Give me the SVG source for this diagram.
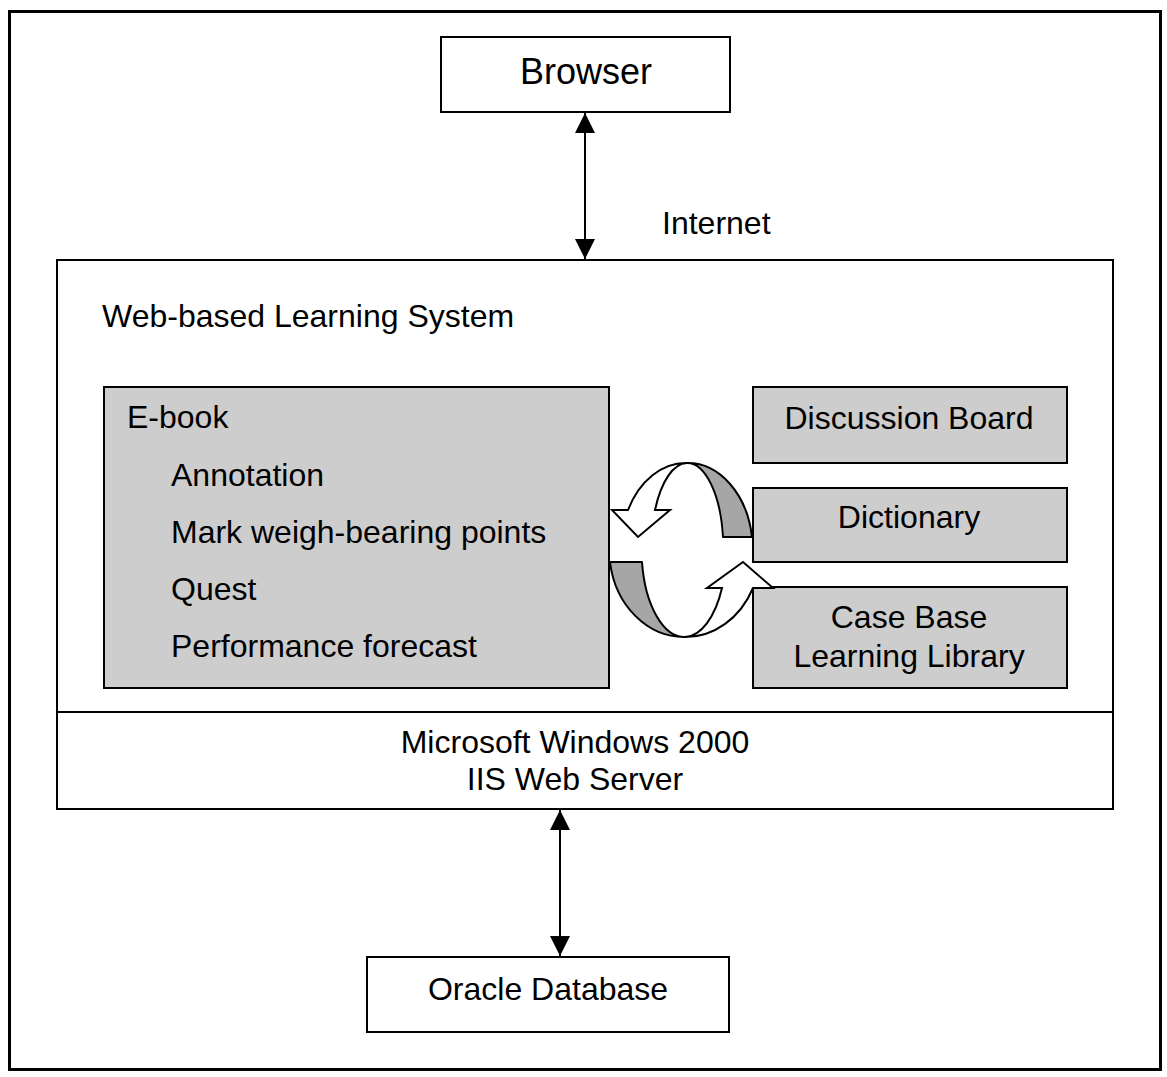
<svg xmlns="http://www.w3.org/2000/svg" width="1167" height="1077" viewBox="0 0 1167 1077">
<style>
.t{font-family:"Liberation Sans",Arial,sans-serif;font-size:32px;fill:#000}
.m{text-anchor:middle}
.box{fill:#fff;stroke:#000;stroke-width:2}
.gbox{fill:#cdcdcd;stroke:#000;stroke-width:2}
.conn{stroke:#000;stroke-width:2;fill:none}
.band{fill:#a6a6a6;stroke:#000;stroke-width:2;stroke-linejoin:round}
.warr{fill:#fff;stroke:#000;stroke-width:2;stroke-linejoin:miter}
</style>
<defs>
<marker id="ah" viewBox="0 0 20 20" refX="20" refY="10" markerWidth="20" markerHeight="20" markerUnits="userSpaceOnUse" orient="auto-start-reverse"><path d="M0,0 L20,10 L0,20 Z" fill="#000"/></marker>
</defs>
<rect x="9.5" y="11.5" width="1151" height="1058" fill="#fff" stroke="#000" stroke-width="3"/>

<g id="browser">
<rect class="box" x="441" y="37" width="289" height="75"/>
<text class="t m" x="586" y="84" style="font-size:36px">Browser</text>
</g>

<g id="system">
<rect class="box" x="57" y="260" width="1056" height="549"/>
<line x1="57" y1="712" x2="1113" y2="712" stroke="#000" stroke-width="2"/>
<text class="t" x="102" y="327">Web-based Learning System</text>
<text class="t m" x="575" y="753">Microsoft Windows 2000</text>
<text class="t m" x="575" y="790">IIS Web Server</text>
</g>

<g id="ebook">
<rect class="gbox" x="104" y="387" width="505" height="301"/>
<text class="t" x="127" y="428">E-book</text>
<text class="t" x="171" y="486">Annotation</text>
<text class="t" x="171" y="543">Mark weigh-bearing points</text>
<text class="t" x="171" y="600">Quest</text>
<text class="t" x="171" y="657">Performance forecast</text>
</g>

<g id="discussion">
<rect class="gbox" x="753" y="387" width="314" height="76"/>
<text class="t m" x="909" y="429">Discussion Board</text>
</g>

<g id="dictionary">
<rect class="gbox" x="753" y="488" width="314" height="74"/>
<text class="t m" x="909" y="528">Dictionary</text>
</g>

<g id="casebase">
<rect class="gbox" x="753" y="587" width="314" height="101"/>
<text class="t m" x="909" y="628">Case Base</text>
<text class="t m" x="909" y="667">Learning Library</text>
</g>

<g id="oracle">
<rect class="box" x="367" y="957" width="362" height="75"/>
<text class="t m" x="548" y="1000">Oracle Database</text>
</g>

<g id="connectors">
<line class="conn" x1="585" y1="113" x2="585" y2="259" marker-start="url(#ah)" marker-end="url(#ah)"/>
<text class="t" x="662" y="234">Internet</text>
<line class="conn" x1="560" y1="810" x2="560" y2="956" marker-start="url(#ah)" marker-end="url(#ah)"/>
<path class="band" d="M687,463 A65,87 0 0,1 752,537 L723,537 A36,85 0 0,0 687,463 Z"/>
<path class="warr" d="M687,463 A65,87 0 0,0 628,510 L612,510 L638,537 L670,510 L655,510 A36,85 0 0,1 687,463 Z"/>
<path class="band" d="M610,562 L642,562 A43,87 0 0,0 685,637 A75,87 0 0,1 610,562 Z"/>
<path class="warr" d="M685,637 A75,87 0 0,0 753,588 L773,588 L743,562 L707,588 L722,588 A42,87 0 0,1 685,637 Z"/>
</g>
</svg>
